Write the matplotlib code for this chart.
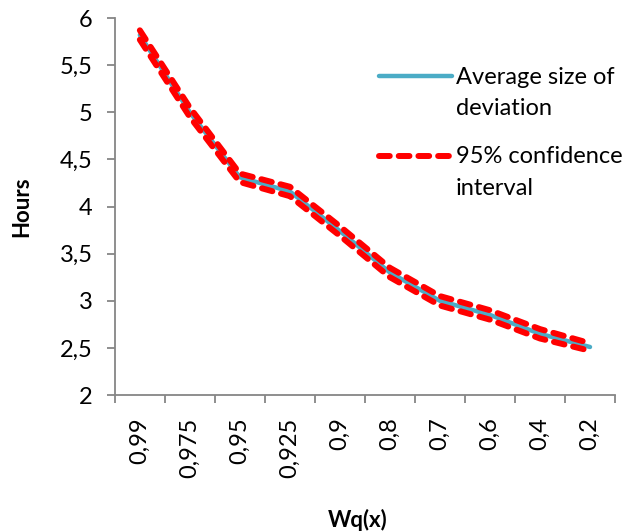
import matplotlib
matplotlib.use("Agg")
import matplotlib.pyplot as plt
from matplotlib.legend_handler import HandlerLine2D
import numpy as np

plt.rcParams['font.family'] = ['Lato', 'DejaVu Sans']

# data
wq_labels = ['0,99', '0,975', '0,95', '0,925', '0,9', '0,8', '0,7', '0,6', '0,4', '0,2']
avg_dev = [5.82, 5.00, 4.31, 4.16, 3.74, 3.30, 3.00, 2.85, 2.65, 2.51]
ci_upper = [5.87, 5.05, 4.35, 4.21, 3.79, 3.35, 3.05, 2.90, 2.70, 2.55]
ci_lower = [5.77, 4.95, 4.26, 4.11, 3.69, 3.25, 2.95, 2.80, 2.60, 2.47]
y_ticks = [2, 2.5, 3, 3.5, 4, 4.5, 5, 5.5, 6]

grey = '#868686'
blue = '#4BACC6'
red = '#FF0000'
fs = 17


class TopLine(HandlerLine2D):
    # put legend line next to the first text row, like Excel does
    def create_artists(self, legend, orig_handle, xdescent, ydescent,
                       width, height, fontsize, trans):
        arts = super().create_artists(legend, orig_handle, xdescent, ydescent,
                                      width, height, fontsize, trans)
        for a in arts:
            a.set_ydata(np.asarray(a.get_ydata()) + 0.72 * fontsize)
        return arts


fig = plt.figure(figsize=(6.38, 5.31), dpi=100)
ax = fig.add_axes([0.180, 0.256, 0.784, 0.710])

x = np.arange(len(wq_labels))
ax.plot(x, avg_dev, color=blue, lw=3.2, solid_capstyle='round',
        solid_joinstyle='round', label='Average size of\ndeviation', zorder=2)
ax.plot(x, ci_upper, color=red, lw=4.3, dashes=(1.8, 1.5),
        dash_capstyle='round', dash_joinstyle='round',
        label='95% confidence\ninterval', zorder=3)
ax.plot(x, ci_lower, color=red, lw=4.3, dashes=(1.8, 1.5),
        dash_capstyle='round', dash_joinstyle='round', zorder=3)

ax.set_xlim(-0.5, len(wq_labels) - 0.5)
ax.set_ylim(2, 6)
ax.set_yticks(y_ticks)
ax.set_yticklabels([('%g' % v).replace('.', ',') for v in y_ticks])

ax.set_xticks(x)
ax.set_xticklabels(wq_labels, rotation=90, va='top')
ax.set_xticks(np.arange(len(wq_labels) + 1) - 0.5, minor=True)
ax.tick_params(axis='x', which='major', length=0, pad=16, labelsize=fs)
ax.tick_params(axis='x', which='minor', length=6, color=grey, width=1.3)
ax.tick_params(axis='y', length=6, color=grey, width=1.3, labelsize=fs, pad=10)

for s in ['top', 'right']:
    ax.spines[s].set_visible(False)
for s in ['left', 'bottom']:
    ax.spines[s].set_color(grey)
    ax.spines[s].set_linewidth(1.3)

ax.set_ylabel('Hours', fontsize=16, fontweight='bold', va='center')
ax.yaxis.set_label_coords(-0.186, 0.5)
ax.set_xlabel('Wq(x)', fontsize=16, fontweight='bold', va='center')
ax.xaxis.set_label_coords(0.486, -0.332)

leg = ax.legend(loc='upper left', bbox_to_anchor=(0.485, 0.927), frameon=False,
                fontsize=fs, handlelength=3.1, handletextpad=0.17,
                labelspacing=1.16, handler_map={plt.Line2D: TopLine()})
for t in leg.get_texts():
    t.set_linespacing(1.6)

fig.savefig('out.png', dpi=100)
